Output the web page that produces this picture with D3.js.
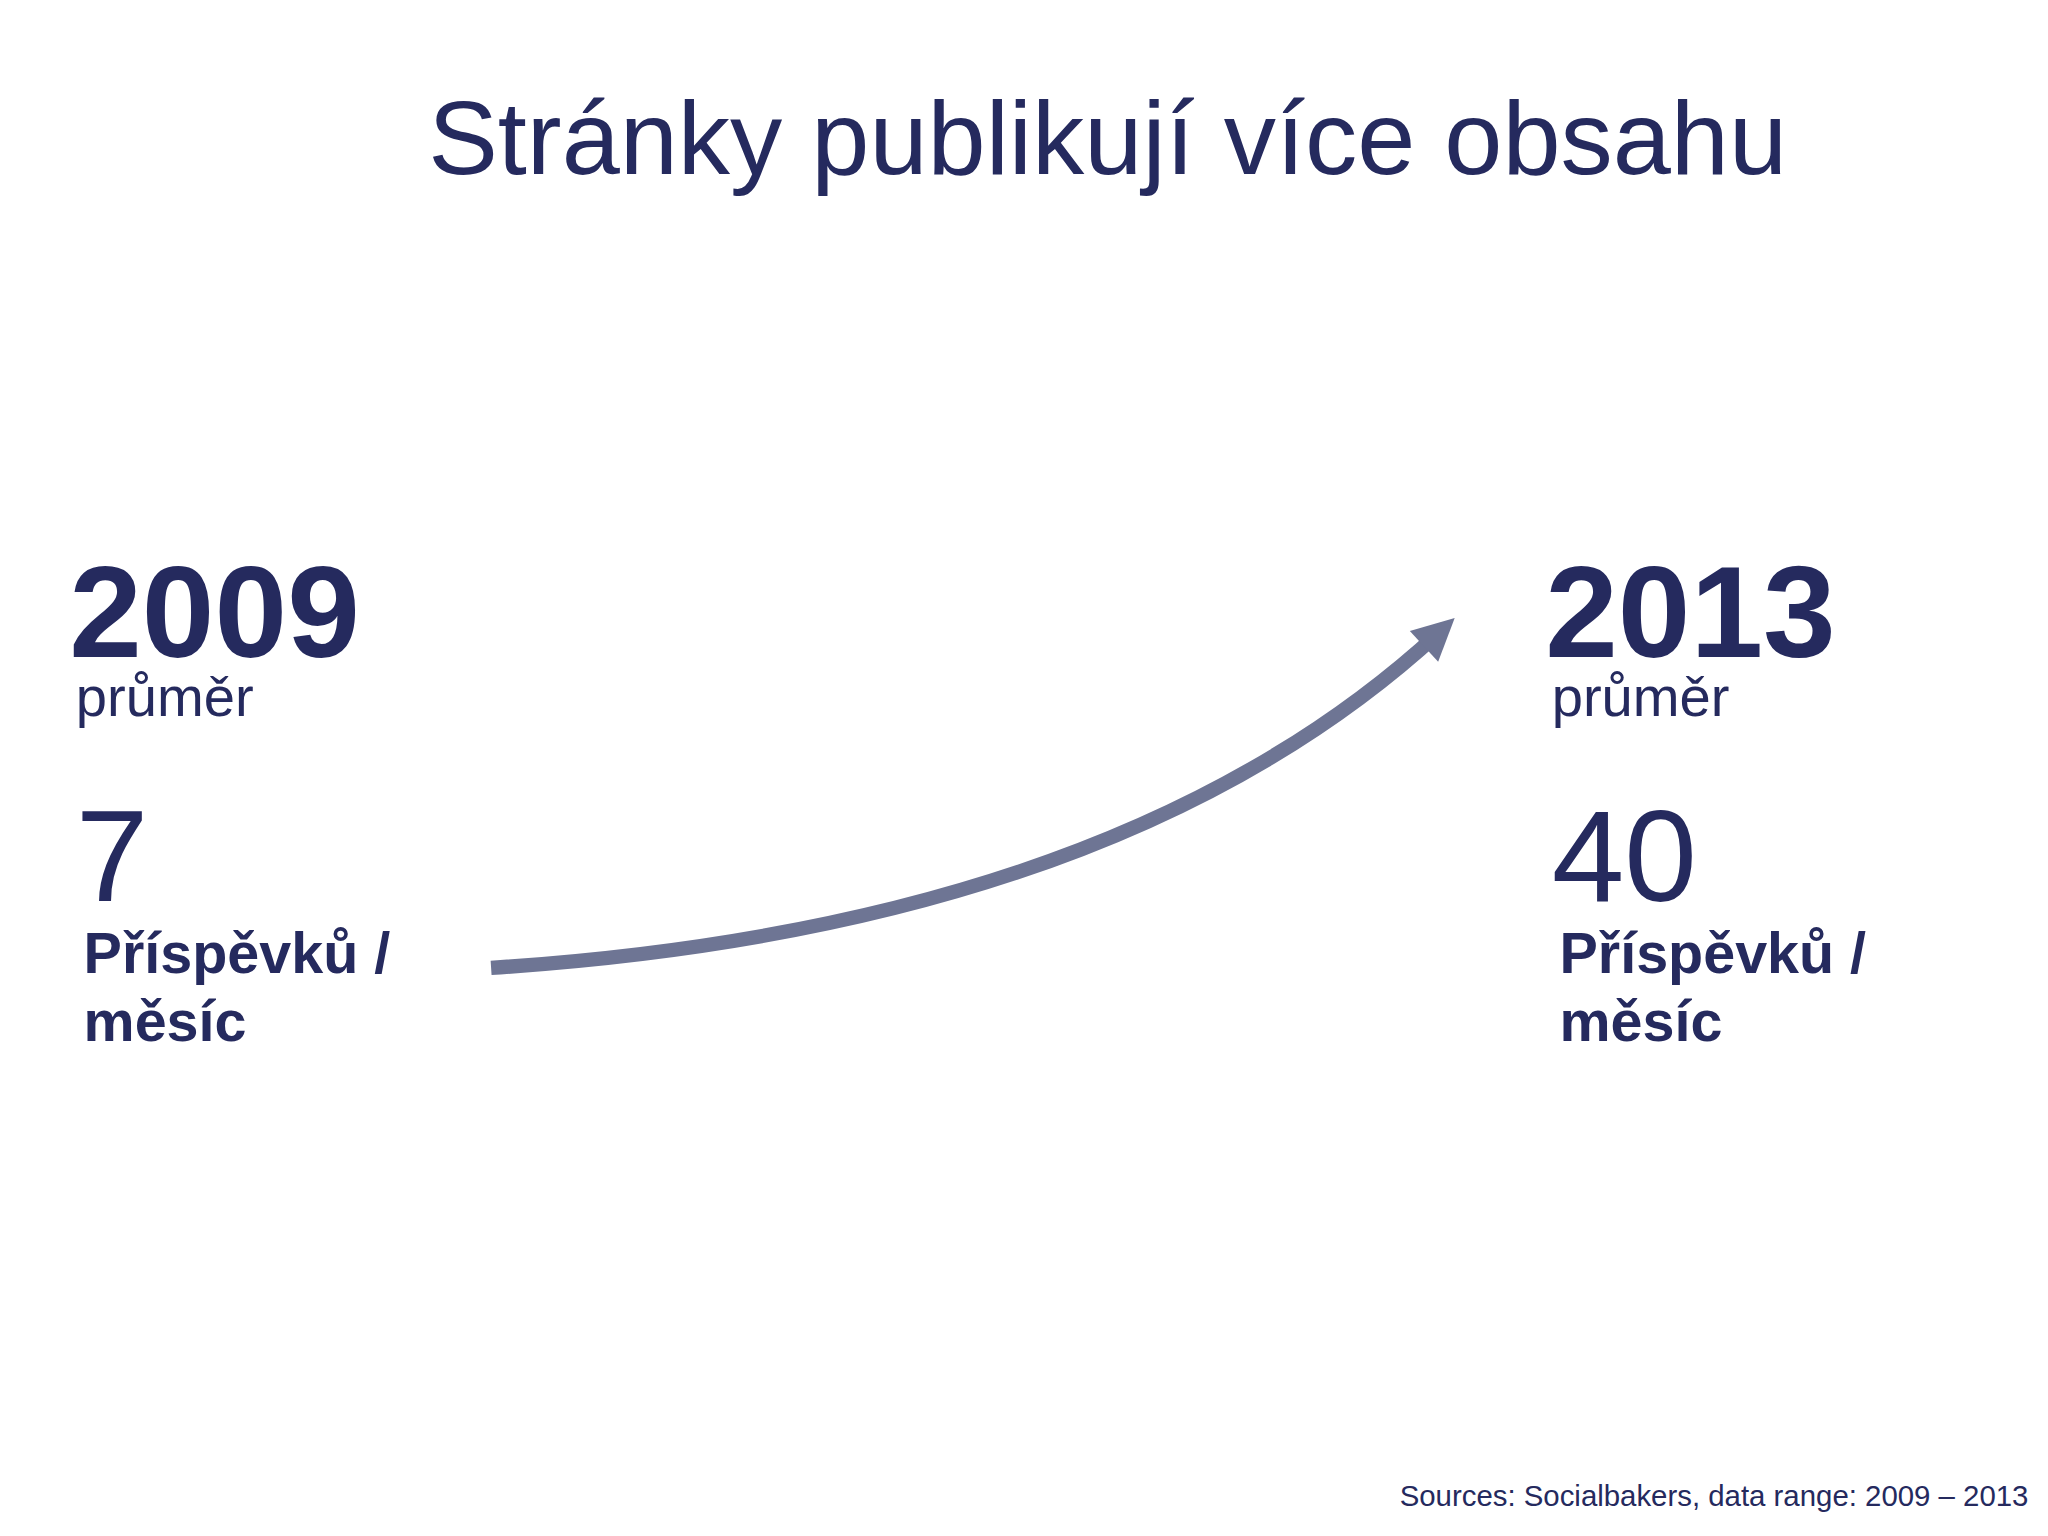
<!DOCTYPE html>
<html><head><meta charset="utf-8">
<script src="https://cdn.jsdelivr.net/npm/d3@7"></script>
<style>body{margin:0;background:#fff}</style></head>
<body><script>
const years = ["2009", "2013"];
const values = [7, 40];
const labelAvg = "průměr";
const labelUnit = ["Příspěvků /", "měsíc"];
const title = "Stránky publikují více obsahu";
const source = "Sources: Socialbakers, data range: 2009 – 2013";

const C = "#252a5e";
const svg = d3.select("body").append("svg")
  .attr("width", 2048).attr("height", 1536)
  .attr("viewBox", "0 0 1568 1176")
  .style("font-family", "Liberation Sans, Arial, sans-serif");

svg.append("text").attr("x", 848).attr("y", 133).attr("text-anchor", "middle")
  .attr("font-size", 80).attr("fill", C).text(title);

const x = d3.scaleOrdinal().domain(years).range([53, 1183]);
years.forEach((y, i) => {
  const x0 = x(y);
  const g = svg.append("g").attr("fill", C);
  g.append("text").attr("x", x0).attr("y", 503).attr("font-size", 100).attr("font-weight", "bold").text(y);
  g.append("text").attr("x", x0 + 5).attr("y", 548).attr("font-size", 43).text(labelAvg);
  g.append("text").attr("x", x0 + 5).attr("y", 690).attr("font-size", 100).text(values[i]);
  labelUnit.forEach((t, j) => g.append("text").attr("x", x0 + 11).attr("y", 745 + j * 52)
    .attr("font-size", 44).attr("font-weight", "bold").text(t));
});

svg.append("defs").append("marker").attr("id", "ah").attr("markerUnits", "userSpaceOnUse")
  .attr("viewBox", "0 0 40 40").attr("refX", 20).attr("refY", 20)
  .attr("markerWidth", 40).attr("markerHeight", 40).attr("orient", "auto")
  .append("path").attr("d", "M4,4 L36,20 L4,36 Z").attr("fill", "#6e7594");

const path = d3.path();
path.moveTo(376, 741);
path.quadraticCurveTo(857, 710, 1102, 484);
svg.append("path").attr("d", path.toString()).attr("fill", "none")
  .attr("stroke", "#6e7594").attr("stroke-width", 11).attr("marker-end", "url(#ah)");

svg.append("text").attr("x", 1553).attr("y", 1153).attr("text-anchor", "end")
  .attr("font-size", 22.5).attr("fill", C).text(source);
</script></body></html>
